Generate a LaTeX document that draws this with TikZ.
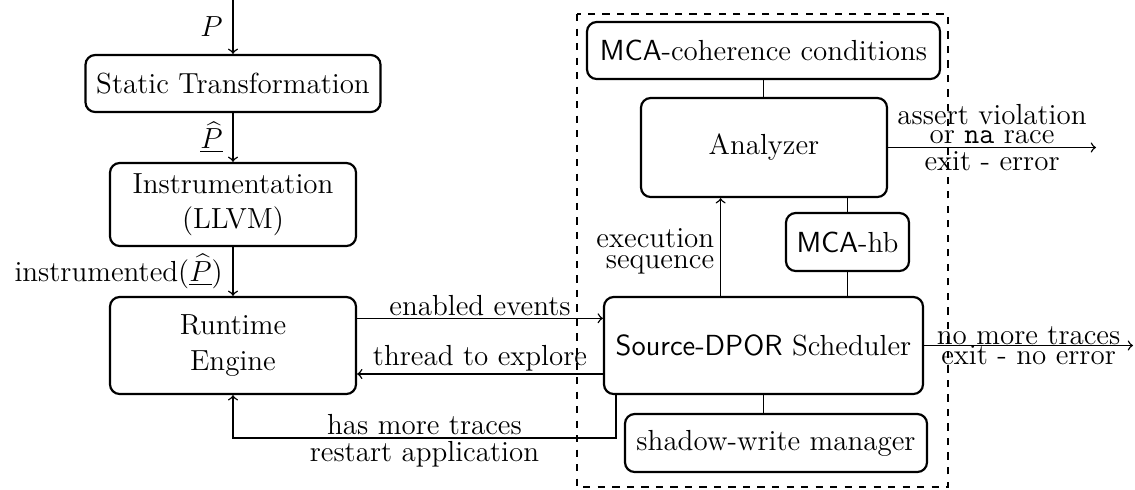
\documentclass[12pt,tikz,border=0pt]{standalone}
\usetikzlibrary{calc}
\def\pxunit{0.4132pt}
\begin{document}
\begin{tikzpicture}[x=0.4132pt,y=-0.4132pt,
  box/.style={draw, line width=0.9pt, rounded corners=4pt, inner sep=2pt, align=center},
  conn/.style={line width=0.55pt},
  arr/.style={->, line width=0.6pt},
  lbl/.style={inner sep=0pt},
  frame/.style={dashed, line width=0.65pt}]
\useasboundingbox (0,0) rectangle (1135,489);

% left column
\node[box, minimum width=295*\pxunit, minimum height=57*\pxunit] (st) at (233,83.5) {Static Transformation};
\node[box, minimum width=246*\pxunit, minimum height=83*\pxunit] (ins) at (233,204.5) {Instrumentation\\(LLVM)};
\node[box, minimum width=246*\pxunit, minimum height=97*\pxunit] (rt) at (233,345.5) {Runtime\\Engine};

% right column
\node[box, minimum width=353*\pxunit, minimum height=57*\pxunit] (mcac) at (763.5,50.5) {\textsf{MCA}-coherence conditions};
\node[box, minimum width=246*\pxunit, minimum height=99*\pxunit] (an) at (764,147.5) {Analyzer};
\node[box, minimum width=123*\pxunit, minimum height=58*\pxunit] (hb) at (847.5,242) {\textsf{MCA}-hb};
\node[box, minimum width=319*\pxunit, minimum height=97*\pxunit] (sch) at (763.5,345.5) {\textsf{Source-DPOR} Scheduler};
\node[box, minimum width=302*\pxunit, minimum height=58*\pxunit] (sw) at (776,443) {shadow-write manager};

\draw[frame] (577,14) rectangle (948,487);

\coordinate (in) at (233,0);
\coordinate (aout) at (1096,147.5);
\coordinate (sout) at (1133,345.5);

% left chain
\draw[arr] (in) -- (st.north) node[midway,left] {$P$};
\draw[arr] (st.south) -- (ins.north) node[midway,left] {$\underline{\widehat{P}}$};
\draw[arr] (ins.south) -- (rt.north) node[midway,left] {instrumented($\underline{\widehat{P}}$)};

% runtime <-> scheduler
\draw[arr] ([yshift=27.2*\pxunit]rt.east) -- ([yshift=27.2*\pxunit]rt.east -| sch.west)
  node[lbl, midway, anchor=base, yshift=3*\pxunit] {enabled events};
\draw[arr] ([yshift=-28.5*\pxunit]sch.west) -- ([yshift=-28.5*\pxunit]sch.west -| rt.east)
  node[lbl, midway, anchor=base, yshift=9*\pxunit] {thread to explore};
\draw[arr] ([xshift=13*\pxunit]sch.south west) -- ++(0,43) -| (rt.south)
  node[lbl, pos=0.25, anchor=base, yshift=4*\pxunit] {has more traces}
  node[lbl, pos=0.25, anchor=base, yshift=-23*\pxunit] {restart application};

% scheduler -> analyzer
\draw[arr] ([xshift=117.7*\pxunit]sch.north west) -- ([xshift=117.7*\pxunit]sch.north west |- an.south)
  node[lbl, midway, anchor=base east, xshift=-5.7*\pxunit] {execution}
  node[lbl, midway, anchor=base east, xshift=-5.7*\pxunit, yshift=-21*\pxunit] {sequence};

% undirected links
\draw[conn] (mcac.south) -- (mcac.south |- an.north);
\draw[conn] (hb.north) -- (hb.north |- an.south);
\draw[conn] (hb.south) -- (hb.south |- sch.north);
\draw[conn] (sch.south) -- (sch.south |- sw.north);

% outputs
\draw[arr] (an.east) -- (aout)
  node[lbl, midway, anchor=base, yshift=22.7*\pxunit] {assert violation}
  node[lbl, midway, anchor=base, yshift=3.7*\pxunit] {or \texttt{na} race}
  node[lbl, midway, anchor=base, yshift=-23.3*\pxunit] {exit - error};
\draw[arr] (sch.east) -- (sout)
  node[lbl, midway, anchor=base, yshift=1.5*\pxunit] {no more traces}
  node[lbl, midway, anchor=base, yshift=-19*\pxunit] {exit - no error};
\end{tikzpicture}
\end{document}
